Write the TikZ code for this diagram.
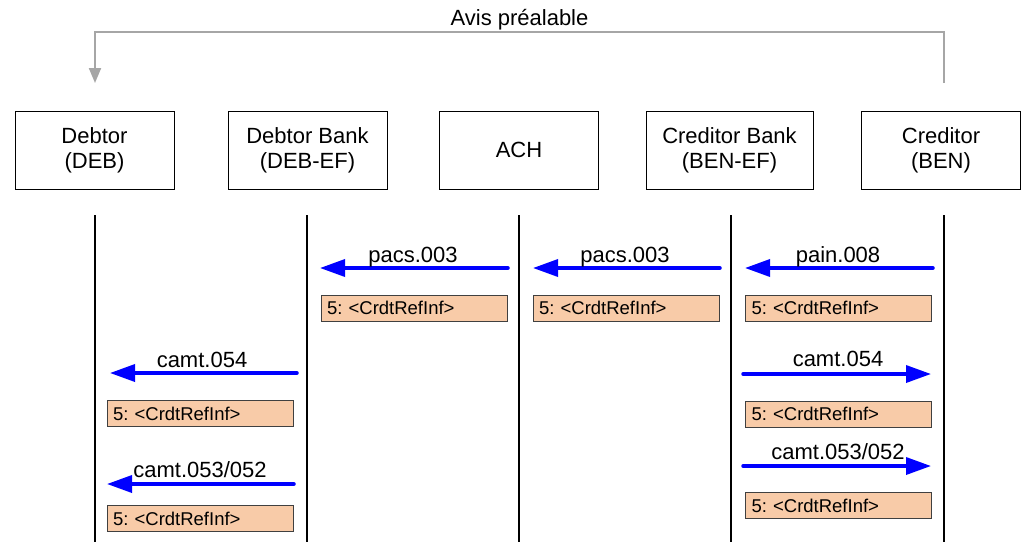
\documentclass[tikz,border=0pt]{standalone}
\usepackage{fontspec}
\setmainfont{Liberation Sans}
\usetikzlibrary{arrows.meta}
\definecolor{refpeach}{HTML}{F8CBA8}
\definecolor{avisgray}{HTML}{A6A6A6}
\frenchspacing
\tikzset{
  party/.style={shape=rectangle, draw, line width=0.9pt, minimum width=159pt, minimum height=78pt, align=center, font=\fontsize{22}{25}\selectfont},
  lifeline/.style={line width=2pt},
  msg/.style={blue, line width=3.5pt, line cap=round, -{Triangle[length=25pt, width=17pt]}},
  msglabel/.style={anchor=base, inner sep=0pt, font=\fontsize{22}{25}\selectfont},
  refbox/.style={shape=rectangle, draw=black!75, line width=0.8pt, fill=refpeach, minimum height=26pt, text width=174pt, inner xsep=6pt, inner ysep=0pt, align=left, font=\fontsize{18.5}{20}\selectfont},
}
\begin{document}
\begin{tikzpicture}[x=1pt, y=-1pt]
\useasboundingbox (0, 0) rectangle (1027, 542);
% parties
\node at (94.5, 150) [party] (deb) {Debtor\\(DEB)};
\node at (307.5, 150) [party] (debef) {Debtor Bank\\(DEB-EF)};
\node at (519, 150) [party] (ach) {ACH};
\node at (729.5, 150) [party, minimum width=167pt] (benef) {Creditor Bank\\(BEN-EF)};
\node at (941, 150) [party] (ben) {Creditor\\(BEN)};
% lifelines
\coordinate (deb top) at (95, 215);   \coordinate (deb bot) at (95, 542);
\coordinate (debef top) at (307, 215); \coordinate (debef bot) at (307, 542);
\coordinate (ach top) at (519, 215);  \coordinate (ach bot) at (519, 542);
\coordinate (benef top) at (731, 215); \coordinate (benef bot) at (731, 542);
\coordinate (ben top) at (944, 215);  \coordinate (ben bot) at (944, 542);
\draw [lifeline] (deb top) to (deb bot);
\draw [lifeline] (debef top) to (debef bot);
\draw [lifeline] (ach top) to (ach bot);
\draw [lifeline] (benef top) to (benef bot);
\draw [lifeline] (ben top) to (ben bot);
% avis prealable
\coordinate (avis from) at (944, 83);
\coordinate (avis to) at (95, 83);
\draw [avisgray, line width=2pt, -{Triangle[length=15pt, width=12pt]}] (avis from) |- (519, 32) -| (avis to);
\node at (519.5, 25) [msglabel] (avis) {Avis préalable};
% messages
\coordinate (pacs1 from) at (508, 268); \coordinate (pacs1 to) at (320, 268);
\coordinate (pacs2 from) at (720, 268); \coordinate (pacs2 to) at (533, 268);
\coordinate (pain from) at (933, 268);  \coordinate (pain to) at (745, 268);
\coordinate (camtA from) at (743, 374); \coordinate (camtA to) at (931, 374);
\coordinate (camtB from) at (743, 466); \coordinate (camtB to) at (931, 466);
\coordinate (camtC from) at (297, 373); \coordinate (camtC to) at (110, 373);
\coordinate (camtD from) at (294, 484); \coordinate (camtD to) at (107, 484);
\draw [msg] (pacs1 from) to (pacs1 to);
\draw [msg] (pacs2 from) to (pacs2 to);
\draw [msg] (pain from) to (pain to);
\draw [msg] (camtA from) to (camtA to);
\draw [msg] (camtB from) to (camtB to);
\draw [msg] (camtC from) to (camtC to);
\draw [msg] (camtD from) to (camtD to);
\node at (413, 262) [msglabel] (pacs1) {pacs.003};
\node at (625, 262) [msglabel] (pacs2) {pacs.003};
\node at (838, 262) [msglabel] (pain) {pain.008};
\node at (838, 366) [msglabel] (camtA) {camt.054};
\node at (838, 459) [msglabel] (camtB) {camt.053/052};
\node at (202, 367) [msglabel] (camtC) {camt.054};
\node at (200, 477) [msglabel] (camtD) {camt.053/052};
% reference boxes
\node at (414, 308) [refbox] (ref1) {5: <CrdtRefInf>};
\node at (626, 308) [refbox] (ref2) {5: <CrdtRefInf>};
\node at (838.5, 308) [refbox] (ref3) {5: <CrdtRefInf>};
\node at (838.5, 414) [refbox] (ref4) {5: <CrdtRefInf>};
\node at (838.5, 505.5) [refbox] (ref5) {5: <CrdtRefInf>};
\node at (200, 413.5) [refbox] (ref6) {5: <CrdtRefInf>};
\node at (200, 518.5) [refbox] (ref7) {5: <CrdtRefInf>};
\end{tikzpicture}
\end{document}
